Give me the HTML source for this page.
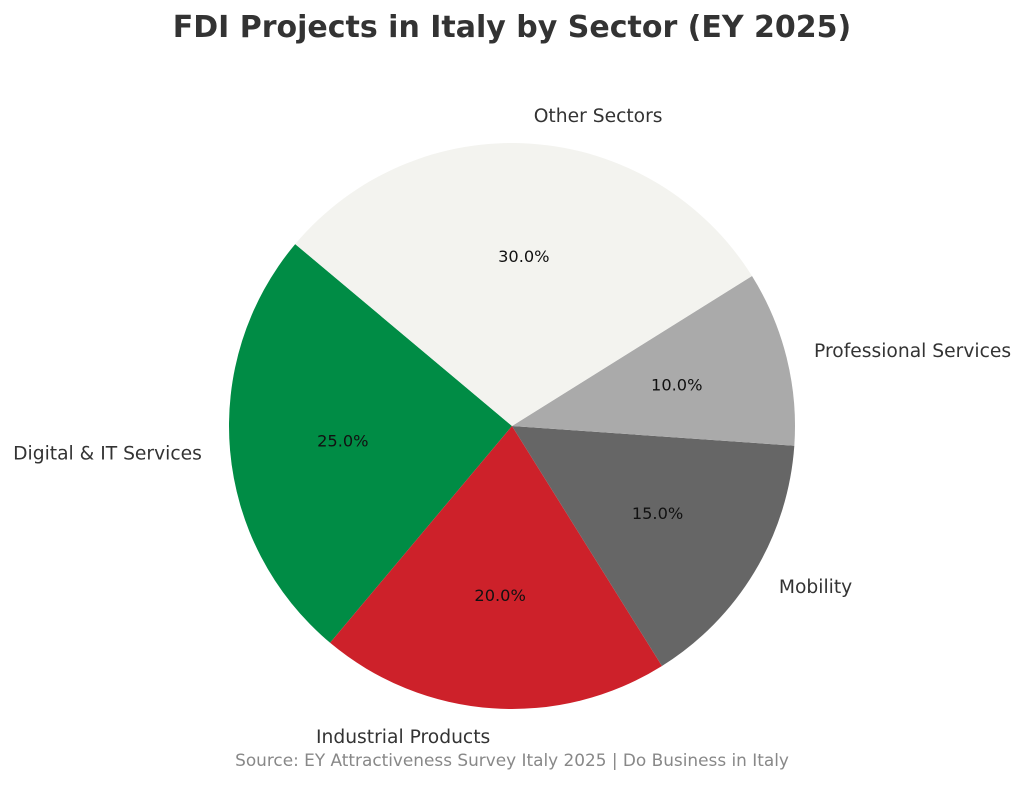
<!DOCTYPE html>
<html><head><meta charset="utf-8"><style>
body{margin:0;background:#fff;}
svg{display:block;font-family:"DejaVu Sans","Liberation Sans",sans-serif;}
</style></head><body>
<svg id="chart" width="1024" height="793">
<text x="512" y="37" text-anchor="middle" font-size="30" font-weight="bold" fill="#333">FDI Projects in Italy by Sector (EY 2025)</text>
<g id="slices"></g>
<text x="512" y="766" text-anchor="middle" font-size="16.9" fill="#888">Source: EY Attractiveness Survey Italy 2025 | Do Business in Italy</text>
</svg>
<script>
const categories = ["Digital & IT Services","Industrial Products","Mobility","Professional Services","Other Sectors"];
const values = [25,20,15,10,30];
const colors = ["#008C45","#CD212A","#666666","#AAAAAA","#F3F3EF"];
const startAngle = 140;
const cx=512, cy=426, r=283;
const g=document.getElementById('slices');
const NS="http://www.w3.org/2000/svg";
const total=values.reduce((a,b)=>a+b,0);
function pt(a,rr){const t=a*Math.PI/180;return [cx+rr*Math.cos(t), cy-rr*Math.sin(t)];}
let a0=startAngle;
values.forEach((v,i)=>{
  const sweep=v/total*360, a1=a0+sweep;
  const p0=pt(a0,r), p1=pt(a1,r);
  const path=document.createElementNS(NS,'path');
  path.setAttribute('d',`M${cx},${cy} L${p0[0]},${p0[1]} A${r},${r} 0 ${sweep>180?1:0} 0 ${p1[0]},${p1[1]} Z`);
  path.setAttribute('fill',colors[i]);
  
  
  g.appendChild(path);
  const mid=(a0+a1)/2;
  const lp=pt(mid,r*1.1);
  const lab=document.createElementNS(NS,'text');
  lab.setAttribute('x',lp[0]);lab.setAttribute('y',lp[1]+6.5);
  lab.setAttribute('text-anchor',Math.cos(mid*Math.PI/180)>=0?'start':'end');
  lab.setAttribute('font-size','18.7');lab.setAttribute('fill','#333');
  lab.textContent=categories[i];
  
  
  g.appendChild(lab);
  const pp=pt(mid,r*0.6);
  const pc=document.createElementNS(NS,'text');
  pc.setAttribute('x',pp[0]);pc.setAttribute('y',pp[1]+5.5);
  pc.setAttribute('text-anchor','middle');pc.setAttribute('font-size','16.2');pc.setAttribute('fill','#111');
  pc.textContent=(v/total*100).toFixed(1)+'%';
  
  
  g.appendChild(pc);
  a0=a1;
});
</script>
</body></html>
